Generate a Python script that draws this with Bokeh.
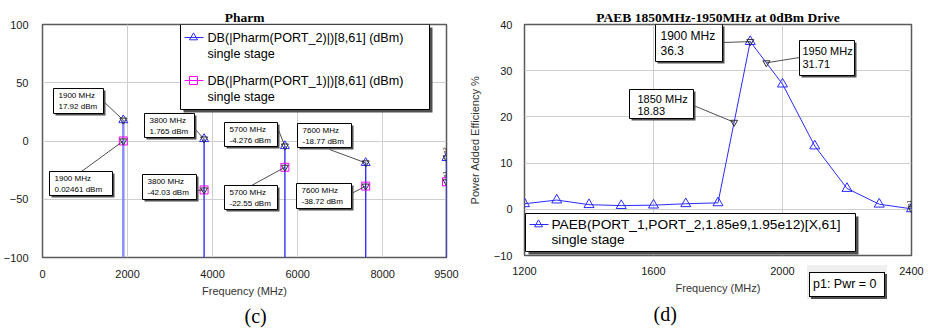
import math
from bokeh.plotting import figure
from bokeh.models import Range1d, FixedTicker, BoxAnnotation, Label, Title, Div
from bokeh.layouts import row, column
from bokeh.embed import file_html
from bokeh.resources import INLINE

# ---------------- data ----------------
harm_freq_mhz = [1900, 3800, 5700, 7600, 9500]
pharm_port2_dbm = [17.92, 1.765, -4.276, -18.77, -14.5]
pharm_port1_dbm = [0.02461, -42.03, -22.55, -38.72, -35.0]
pharm_xticks = [0, 2000, 4000, 6000, 8000, 9500]
pharm_yticks = [-100, -50, 0, 50, 100]

paeb_freq_mhz = [1200, 1300, 1400, 1500, 1600, 1700, 1800, 1900, 2000, 2100, 2200, 2300, 2400]
paeb_pct = [1.2, 2.0, 1.0, 0.8, 0.9, 1.2, 1.4, 36.3, 27.1, 13.7, 4.5, 1.1, 0.1]
paeb_marker_freq = [1850, 1900, 1950]
paeb_marker_pct = [18.83, 36.3, 31.71]
paeb_xticks = [1200, 1600, 2000, 2400]
paeb_yticks = [-10, 0, 10, 20, 30, 40]

FONT = "Liberation Sans"
SERIF = "Liberation Serif"
BLUE = "#2b2bff"
MAG = "#ff00ff"
DARK = "#303030"
stem_colors = ["#8c8cff", "#3030ff", "#3030ff", "#3030ff", "#3030ff"]
stem_widths = [2.5, 1.4, 1.4, 1.4, 1.4]


def conv(xr, yr, fl, ft, fw, fh):
    def fx(px):
        return xr[0] + (px - fl) / fw * (xr[1] - xr[0])

    def fy(py):
        return yr[1] - (py - ft) / fh * (yr[1] - yr[0])
    return fx, fy


def make_fig(title, xr, yr, fw, fh, bl, br, bt, bb, xticks, yticks):
    p = figure(title=title, x_range=Range1d(*xr), y_range=Range1d(*yr), frame_width=fw,
               frame_height=fh, min_border_left=bl, min_border_right=br, min_border_top=bt,
               min_border_bottom=bb, output_backend="svg", toolbar_location=None,
               background_fill_color="white", border_fill_color="white",
               outline_line_color="#5a5a5a", outline_line_width=1.5)
    p.title.align = "center"
    p.title.text_font = SERIF
    p.title.text_font_size = "13.5px"
    p.title.text_font_style = "bold"
    p.title.text_color = "black"
    p.title.standoff = 0
    # small invisible spacer between the frame and the title
    p.add_layout(Title(text=".", text_font_size="3px", text_alpha=0, standoff=0), "above")
    p.xaxis.ticker = FixedTicker(ticks=xticks)
    p.yaxis.ticker = FixedTicker(ticks=yticks)
    for ax in (p.xaxis, p.yaxis):
        ax.major_tick_out = 0
        ax.major_tick_in = 0
        ax.minor_tick_out = 0
        ax.minor_tick_in = 0
        ax.axis_line_color = None
        ax.major_label_text_font = FONT
        ax.major_label_text_font_size = "11px"
        ax.major_label_text_color = "#1a1a1a"
        ax.axis_label_text_font = FONT
        ax.axis_label_text_font_size = "11px"
        ax.axis_label_text_font_style = "normal"
        ax.axis_label_text_color = "#333333"
    p.xgrid.grid_line_color = "#cfcfcf"
    p.ygrid.grid_line_color = "#cfcfcf"
    return p


def add_box(p, fx, fy, l, t, r, b, shadow=2, fill="white", border="black"):
    if shadow:
        p.add_layout(BoxAnnotation(left=fx(l + shadow), right=fx(r + shadow), top=fy(t + shadow),
                                   bottom=fy(b + shadow), fill_color="#505050", fill_alpha=1,
                                   line_alpha=0))
    p.add_layout(BoxAnnotation(left=fx(l), right=fx(r), top=fy(t), bottom=fy(b),
                               fill_color=fill, fill_alpha=1, line_color=border,
                               line_alpha=1 if border else 0, line_width=1))


def add_text(p, fx, fy, x, y, text, size, align="left", font=FONT, style="normal",
             color="black", angle=0.0):
    p.add_layout(Label(x=fx(x), y=fy(y), text=text, text_font=font,
                       text_font_size=f"{size}px", text_align=align, text_baseline="middle",
                       text_color=color, text_font_style=style, angle=angle))


def below_title(p, text, offset, size, standoff, font=SERIF, **kw):
    t = Title(text=text, align="left", offset=offset, text_font=font,
              text_font_size=f"{size}px", text_font_style="normal", text_color="black",
              standoff=standoff, **kw)
    p.add_layout(t, "below")
    return t


# ================= left chart (c) =================
LXR, LYR = (0, 9500), (-100, 100)
pL = make_fig("Pharm", LXR, LYR, 404, 233, 41, 17, 24, 76, pharm_xticks, pharm_yticks)
pL.yaxis.major_label_standoff = 14
pL.xaxis.major_label_standoff = 12
pL.xaxis.axis_label = "Frequency (MHz)"
pL.xaxis.axis_label_standoff = 4
LX, LY = conv(LXR, LYR, 41, 24, 404, 233)

n = len(harm_freq_mhz)
pL.segment(x0=harm_freq_mhz, y0=[LYR[0]] * n, x1=harm_freq_mhz, y1=pharm_port2_dbm,
           line_color=stem_colors, line_width=stem_widths)
pL.scatter(harm_freq_mhz, pharm_port2_dbm, marker="triangle", size=9, fill_color=None,
           line_color=BLUE, line_width=1)
pL.scatter(harm_freq_mhz, pharm_port1_dbm, marker="square", size=8, fill_color=None,
           line_color=MAG, line_width=1)
pL.scatter(harm_freq_mhz, pharm_port2_dbm, marker="inverted_triangle", size=7,
           fill_color=None, line_color=DARK, line_width=1)
pL.scatter(harm_freq_mhz, pharm_port1_dbm, marker="inverted_triangle", size=7,
           fill_color=None, line_color=DARK, line_width=1)

# marker annotations (boxes in canvas pixels, leaders end at the data points)
p2_boxes = [(52, 88, 102, 113), (143, 113, 193, 137), (223, 122, 276, 146), (296, 123, 350, 147)]
p2_lead = [(102, 101), (193, 128), (276, 127), (328, 149)]
p1_boxes = [(48, 171, 111, 195), (141, 174, 195, 199), (223, 185, 276, 209), (295, 183, 350, 208)]
p1_lead = [(80, 171), (195, 190), (250, 185), (350, 193)]

for vals, boxes, leads in ((pharm_port2_dbm, p2_boxes, p2_lead), (pharm_port1_dbm, p1_boxes, p1_lead)):
    pL.segment(x0=[LX(s[0]) for s in leads], y0=[LY(s[1]) for s in leads],
               x1=harm_freq_mhz[:4], y1=vals[:4], line_color="#222222", line_width=0.8)
    for i, (l, t, r, b) in enumerate(boxes):
        add_box(pL, LX, LY, l, t, r, b)
        add_text(pL, LX, LY, l + 5, t + 7, f"{harm_freq_mhz[i]} MHz", 8)
        add_text(pL, LX, LY, l + 5, t + 18, f"{vals[i]} dBm", 8)

add_text(pL, LX, LY, 443, 150, "p2", 6, align="center", angle=math.pi / 2)
add_text(pL, LX, LY, 443, 174, "p1", 6, align="center", angle=math.pi / 2)

# legend
add_box(pL, LX, LY, 179, 24, 428, 109, shadow=3)
pL.segment(x0=[LX(183), LX(183)], y0=[LY(37), LY(80)], x1=[LX(202), LX(202)], y1=[LY(37), LY(80)],
           line_color=[BLUE, MAG], line_width=1, level="overlay")
pL.scatter([LX(192)], [LY(37)], marker="triangle", size=8, fill_color=None, line_color=BLUE,
           level="overlay")
pL.scatter([LX(192)], [LY(80)], marker="square", size=8, fill_color=None, line_color=MAG,
           level="overlay")
add_text(pL, LX, LY, 206, 37, "DB(|Pharm(PORT_2)|)[8,61] (dBm)", 12.6)
add_text(pL, LX, LY, 206, 53, "single stage", 12.6)
add_text(pL, LX, LY, 206, 80, "DB(|Pharm(PORT_1)|)[8,61] (dBm)", 12.6)
add_text(pL, LX, LY, 206, 96, "single stage", 12.6)

below_title(pL, "(c)", 202, 20, 7)

# ================= right chart (d) =================
RXR, RYR = (1200, 2400), (-10, 40)
pR = make_fig("PAEB 1850MHz-1950MHz at 0dBm Drive", RXR, RYR, 387, 231, 61, 18, 24, 78,
              paeb_xticks, paeb_yticks)
pR.yaxis.major_label_standoff = 12
pR.xaxis.major_label_standoff = 11
pR.xaxis.axis_label = "Frequency (MHz)"
pR.xaxis.axis_label_standoff = 4
pR.yaxis.axis_label = "Power Added Efficiency %"
pR.yaxis.axis_label_standoff = 10
RX, RY = conv(RXR, RYR, 523, 24, 387, 231)

pR.line(paeb_freq_mhz, paeb_pct, line_color=BLUE, line_width=1)
pR.scatter(paeb_freq_mhz, paeb_pct, marker="triangle", size=10, fill_color=None,
           line_color=BLUE, line_width=1)
pR.scatter(paeb_marker_freq + [paeb_freq_mhz[-1]], paeb_marker_pct + [paeb_pct[-1]],
           marker="inverted_triangle", size=7, fill_color=None, line_color=DARK, line_width=1)

r_boxes = [(628, 89, 692, 118), (654, 24, 721, 61), (798, 40, 853, 75)]
r_lead = [(692, 105), (721, 42), (798, 57)]
r_text = [(636, 98, 110, 11), (659, 35, 50, 12), (801, 50, 63, 11)]
pR.segment(x0=[RX(s[0]) for s in r_lead], y0=[RY(s[1]) for s in r_lead],
           x1=paeb_marker_freq, y1=paeb_marker_pct, line_color="#222222", line_width=0.8)
for i, (l, t, r, b) in enumerate(r_boxes):
    add_box(pR, RX, RY, l, t, r, b)
    tx, y1, y2, fs = r_text[i]
    add_text(pR, RX, RY, tx, y1, f"{paeb_marker_freq[i]} MHz", fs)
    add_text(pR, RX, RY, tx, y2, f"{paeb_marker_pct[i]}", fs)

add_text(pR, RX, RY, 907, 203, "p1", 6, align="center", angle=math.pi / 2)

# legend
add_box(pR, RX, RY, 524, 213, 854, 251, shadow=3)
pR.segment(x0=[RX(528)], y0=[RY(224)], x1=[RX(547)], y1=[RY(224)], line_color=BLUE,
           line_width=1, level="overlay")
pR.scatter([RX(537)], [RY(224)], marker="triangle", size=8, fill_color=None, line_color=BLUE,
           level="overlay")
add_text(pR, RX, RY, 550, 224, "PAEB(PORT_1,PORT_2,1.85e9,1.95e12)[X,61]", 13.7)
add_text(pR, RX, RY, 550, 239, "single stage", 13.7)

below_title(pR, "(d)", 129, 20, 9)

# "p1: Pwr = 0" note box, overlaid below the right plot's frame
note = Div(text="p1: Pwr = 0", width=76, height=25, margin=0,
           styles={"position": "absolute", "left": "809px", "top": "272px", "z-index": "5",
                   "box-sizing": "border-box", "border": "1px solid black",
                   "background": "white", "font-family": FONT, "font-size": "12.5px",
                   "line-height": "23px", "padding-left": "3px", "color": "black",
                   "box-shadow": "2px 2px 0 #505050, 0 -5px 0 2px #efefef, 0 0 0 2px #efefef"})

layout = column(row(pL, pR), note)
open("out.html", "w").write(file_html(layout, INLINE))
